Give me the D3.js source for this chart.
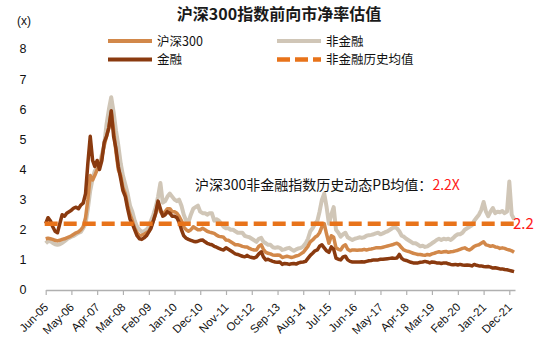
<!DOCTYPE html>
<html><head><meta charset="utf-8">
<script src="https://cdn.jsdelivr.net/npm/d3@7/dist/d3.min.js"></script>
<style>
html,body{margin:0;padding:0;background:#fff;}
svg{display:block;}
</style></head>
<body><svg id="chart" width="550" height="354"></svg>
<script>
// Monthly values, Jun-2005 .. Feb-2022 (201 months)
const startMonth = "2005-06";
const endMonth = "2022-02";
const finance = [
2.2,2.4,2.3,2.1,1.95,1.9,2.2,2.5,2.45,2.55,2.6,2.65,
2.72,2.75,2.7,2.82,2.88,3.2,4.2,5.1,4.3,4.1,4.3,4.0,
4.3,4.9,5.1,5.4,5.95,5.1,4.7,4.1,3.7,3.3,3.1,2.7,
2.35,2.2,2.0,1.8,1.7,1.68,1.73,1.8,1.93,2.05,2.3,2.55,
2.95,2.7,2.45,2.5,2.6,2.55,2.45,2.45,2.4,2.25,2.0,1.8,
1.72,1.68,1.65,1.62,1.6,1.62,1.65,1.66,1.6,1.55,1.52,1.5,
1.45,1.42,1.38,1.35,1.33,1.4,1.35,1.3,1.25,1.2,1.18,1.15,
1.12,1.1,1.15,1.1,1.08,1.06,1.1,1.2,1.27,1.1,1.0,1.02,
0.98,0.95,0.93,0.92,0.93,0.85,0.88,0.87,0.85,0.87,0.88,0.86,
0.9,0.92,0.93,0.95,1.05,1.15,1.22,1.3,1.33,1.45,1.5,1.4,
1.3,1.25,1.43,1.35,1.06,1.02,1.0,1.1,1.12,1.0,0.95,0.93,
0.93,0.93,0.93,0.94,0.93,0.95,0.97,0.98,1.0,1.0,1.0,1.02,
1.02,1.03,1.04,1.05,1.06,1.05,1.06,1.18,1.05,1.0,0.98,0.95,
0.92,0.9,0.9,0.9,0.92,0.93,0.95,0.93,0.9,0.93,0.92,0.9,
0.9,0.88,0.9,0.9,0.87,0.85,0.84,0.85,0.83,0.85,0.83,0.82,
0.83,0.82,0.8,0.85,0.82,0.8,0.8,0.78,0.77,0.78,0.76,0.73,
0.74,0.72,0.7,0.7,0.68,0.67,0.65,0.63,0.61];
const hs300 = [
1.7,1.72,1.7,1.68,1.65,1.63,1.65,1.68,1.7,1.73,1.76,1.8,
1.85,1.9,1.93,2.0,2.1,2.4,3.0,3.8,3.65,3.8,4.0,4.1,
4.4,4.8,5.1,5.4,5.9,5.3,4.6,4.0,3.8,3.4,3.2,2.8,
2.5,2.3,2.05,1.9,1.8,1.82,1.85,1.9,1.95,2.1,2.3,2.55,
2.9,2.6,2.5,2.6,2.7,2.7,2.6,2.6,2.55,2.45,2.3,2.1,
2.0,1.95,2.0,2.1,2.05,2.0,2.0,2.05,2.0,1.95,1.92,1.9,
1.88,1.82,1.78,1.77,1.75,1.66,1.65,1.6,1.55,1.5,1.5,1.48,
1.45,1.43,1.43,1.38,1.35,1.33,1.33,1.45,1.5,1.35,1.25,1.22,
1.2,1.16,1.15,1.16,1.15,1.08,1.1,1.12,1.1,1.08,1.1,1.13,
1.15,1.2,1.25,1.35,1.45,1.6,1.66,1.75,1.8,1.9,2.1,2.2,
1.85,1.55,1.8,1.75,1.4,1.35,1.33,1.45,1.5,1.35,1.3,1.33,
1.33,1.32,1.33,1.33,1.35,1.33,1.35,1.36,1.38,1.4,1.4,1.4,
1.42,1.44,1.46,1.48,1.5,1.53,1.55,1.5,1.4,1.33,1.3,1.28,
1.25,1.22,1.2,1.18,1.18,1.16,1.15,1.18,1.16,1.2,1.22,1.25,
1.27,1.25,1.27,1.28,1.25,1.27,1.28,1.3,1.32,1.35,1.38,1.4,
1.35,1.33,1.38,1.45,1.48,1.5,1.55,1.6,1.5,1.48,1.45,1.47,
1.43,1.42,1.38,1.4,1.38,1.35,1.33,1.3,1.25];
const nonFinance = [
1.55,1.62,1.62,1.56,1.52,1.5,1.52,1.56,1.62,1.68,1.73,1.77,
1.8,1.85,1.9,1.93,2.05,2.2,2.7,3.3,3.7,3.95,4.05,4.15,
4.5,4.8,5.5,6.0,6.4,5.9,5.3,4.8,4.2,3.8,3.5,3.2,
2.8,2.6,2.3,2.1,2.0,1.93,1.95,2.0,2.1,2.3,2.5,2.75,
3.1,3.55,2.9,2.95,3.1,3.2,3.1,3.0,2.95,3.0,2.8,2.5,
2.3,2.25,2.5,2.7,2.75,2.8,2.6,2.55,2.55,2.5,2.55,2.55,
2.3,2.35,2.3,2.2,2.1,2.05,2.05,2.0,2.0,1.95,1.9,1.9,
1.9,1.8,1.77,1.75,1.7,1.65,1.6,1.7,1.73,1.6,1.55,1.5,
1.5,1.42,1.4,1.42,1.4,1.33,1.35,1.38,1.4,1.35,1.3,1.35,
1.38,1.4,1.45,1.55,1.7,1.95,2.05,2.2,2.3,2.6,3.0,3.2,
2.75,2.2,2.5,2.75,2.0,1.9,1.77,1.85,1.9,1.75,1.7,1.66,
1.7,1.72,1.75,1.73,1.75,1.8,1.82,1.83,1.85,1.88,1.9,1.85,
1.88,1.92,1.95,2.0,2.05,2.08,2.05,1.95,1.8,1.77,1.7,1.65,
1.6,1.55,1.55,1.5,1.45,1.47,1.43,1.45,1.5,1.55,1.6,1.66,
1.7,1.66,1.7,1.68,1.7,1.66,1.72,1.8,1.85,1.85,1.9,2.0,
2.05,2.1,2.15,2.3,2.4,2.5,2.65,2.92,2.6,2.45,2.6,2.72,
2.55,2.6,2.58,2.62,2.55,2.6,3.6,2.5,2.35];
const histAvg = 2.2;
const tickLabels = ["Jun-05","May-06","Apr-07","Mar-08","Feb-09","Jan-10","Dec-10","Nov-11","Oct-12","Sep-13","Aug-14","Jul-15","Jun-16","May-17","Apr-18","Mar-19","Feb-20","Jan-21","Dec-21"];
const yTicks = [0,1,2,3,4,5,6,7,8];
const seriesNames = ["沪深300","金融","非金融","非金融历史均值"];

const parseM = d3.timeParse("%Y-%m");
const dates = d3.timeMonth.range(parseM(startMonth), d3.timeMonth.offset(parseM(endMonth),1));
const parseTick = d3.timeParse("%b-%y");

const svg = d3.select("#chart");
svg.append("rect").attr("width",550).attr("height",354).attr("fill","#fff");

const x = d3.scaleTime()
  .domain([parseM(startMonth), new Date(2022,1,13)])
  .range([45.7, 515]);
const y = d3.scaleLinear().domain([0,8]).range([290,49]);

const cjk = "'Noto Sans CJK SC','Noto Sans',sans-serif";
const lat = "'Liberation Sans',Arial,sans-serif";

const C = {hs:"#D2884A", fin:"#8A3A0F", nf:"#D0C6B7", avg:"#E8731A", red:"#FF1A1A"};

// title
svg.append("text").attr("x",279).attr("y",20).attr("text-anchor","middle")
  .attr("font-family",cjk).attr("font-size",16).attr("font-weight","bold").attr("fill","#1a1a1a")
  .text("沪深300指数前向市净率估值");
svg.append("text").attr("x",17).attr("y",25).attr("font-family",lat).attr("font-size",12).attr("fill","#111").text("(x)");

// y labels
svg.append("g").selectAll("text").data(yTicks).join("text")
  .attr("x",23).attr("y",d=>y(d)).attr("dy","0.35em").attr("text-anchor","middle")
  .attr("font-family",lat).attr("font-size",12.5).attr("fill","#111").text(d=>d);

// x axis
const tickDates = tickLabels.map(t=>parseTick(t));
const xAxis = d3.axisBottom(x).tickValues(tickDates).tickSize(5).tickSizeOuter(0).tickFormat((d,i)=>tickLabels[i]);
const gx = svg.append("g").attr("transform","translate(0,290)").call(xAxis);
gx.select(".domain").attr("stroke","#B0B0B0").attr("stroke-width",1.5);
gx.selectAll(".tick line").attr("stroke","#B0B0B0").attr("stroke-width",1.2);
gx.selectAll(".tick text")
  .attr("font-family",lat).attr("font-size",11.5).attr("fill","#111")
  .attr("text-anchor","end").attr("dy","0.35em").attr("y",0).attr("x",0)
  .attr("transform","translate(0,15) rotate(-45)");

// lines
const line = d3.line().x((d,i)=>x(dates[i])).y(d=>y(d)).curve(d3.curveLinear);
const plot = svg.append("g");
plot.append("path").datum(nonFinance).attr("d",line).attr("fill","none").attr("stroke",C.nf).attr("stroke-width",4).attr("stroke-linejoin","round");
plot.append("path").datum(hs300).attr("d",line).attr("fill","none").attr("stroke",C.hs).attr("stroke-width",3.5).attr("stroke-linejoin","round");
plot.append("path").datum(finance).attr("d",line).attr("fill","none").attr("stroke",C.fin).attr("stroke-width",3.5).attr("stroke-linejoin","round");
plot.append("line").attr("x1",x(dates[0])-1).attr("x2",x(dates[dates.length-1])+1)
  .attr("y1",y(histAvg)).attr("y2",y(histAvg))
  .attr("stroke",C.avg).attr("stroke-width",4.5).attr("stroke-dasharray","13,6");

// labels
svg.append("text").attr("x",513).attr("y",y(histAvg)).attr("dy","0.38em")
  .attr("font-family",cjk).attr("font-size",15).attr("fill",C.red).text(histAvg.toFixed(1));
const ann = svg.append("text").attr("x",195).attr("y",190).attr("font-family",cjk).attr("font-size",14).attr("fill","#111");
ann.append("tspan").text("沪深300非金融指数历史动态PB均值：");
ann.append("tspan").attr("fill",C.red).text(histAvg.toFixed(1)+"X");

// legend
const legend = [
  {name:seriesNames[0], color:C.hs, dash:null, lx:108, ly:41},
  {name:seriesNames[2], color:C.nf, dash:null, lx:277, ly:41},
  {name:seriesNames[1], color:C.fin, dash:null, lx:108, ly:59.5},
  {name:seriesNames[3], color:C.avg, dash:"13,5", lx:277, ly:59.5}
];
const lg = svg.append("g").selectAll("g").data(legend).join("g");
lg.append("line").attr("x1",d=>d.lx).attr("x2",d=>d.lx+44).attr("y1",d=>d.ly).attr("y2",d=>d.ly)
  .attr("stroke",d=>d.color).attr("stroke-width",d=>d.dash?4.5:4).attr("stroke-dasharray",d=>d.dash);
lg.append("text").attr("x",d=>d.lx+49).attr("y",d=>d.ly).attr("dy","0.36em")
  .attr("font-family",cjk).attr("font-size",12.5).attr("fill","#111").text(d=>d.name);
</script></body></html>
